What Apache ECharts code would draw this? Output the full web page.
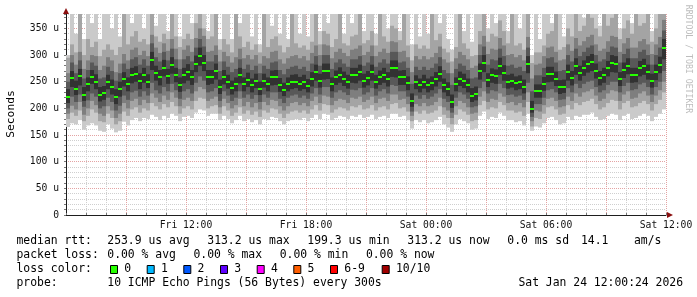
<!DOCTYPE html>
<html><head><meta charset="utf-8">
<script src="https://cdn.jsdelivr.net/npm/echarts@6/dist/echarts.min.js"></script>
<style>html,body{margin:0;padding:0;background:#fff}#c{width:697px;height:297px}</style>
</head><body><div id="c"></div>
<script>
// time grid: hours since Fri 00:00, one column every 12 minutes
const startHour = 6, stepHours = 0.2, endHour = 36;
const xTickHours = [12, 18, 24, 30, 36];
const xTickLabels = ['Fri 12:00', 'Fri 18:00', 'Sat 00:00', 'Sat 06:00', 'Sat 12:00'];
const yTickValues = [0, 50, 100, 150, 200, 250, 300, 350];
const yTickLabels = ['0', '50 u', '100 u', '150 u', '200 u', '250 u', '300 u', '350 u'];

// median rtt (microseconds)
const median = [221,257,237,260,226,245,259,250,226,228,
 250,240,222,236,255,245,262,265,252,262,
 250,290,266,258,276,260,281,262,244,262,
 268,258,284,298,286,258,259,270,240,259,
 250,238,245,262,245,254,243,252,237,252,
 245,258,258,244,235,245,250,250,246,250,
 242,255,268,252,270,270,245,258,263,256,
 250,262,262,268,252,257,268,250,258,262,
 255,275,275,258,258,247,214,249,243,250,
 243,247,255,265,243,236,212,245,256,252,
 243,224,227,270,285,253,262,260,280,267,
 250,252,247,249,241,283,199,232,232,246,
 264,264,256,240,241,268,257,279,266,276,
 283,287,270,257,262,275,285,283,255,272,
 280,262,262,275,279,268,252,268,282,313];

// sorted pings (smoke): ping1 = fastest ... ping10 = slowest
const ping1 = [165,172,170,178,160,168,172,168,158,156,
 170,162,155,158,175,168,178,182,176,182,
 180,188,184,178,186,182,190,186,176,184,
 186,182,192,198,196,186,190,190,178,186,
 180,172,178,186,176,180,174,178,170,180,
 178,184,182,176,170,176,178,180,178,182,
 176,182,188,180,190,188,178,182,186,184,
 180,186,184,188,182,184,188,180,184,186,
 182,190,190,184,186,178,162,178,174,178,
 172,174,178,184,170,164,156,170,180,176,
 172,160,162,186,194,180,184,182,192,186,
 178,178,174,176,168,190,158,166,164,172,
 182,184,178,170,172,184,178,186,184,188,
 188,192,184,178,180,186,190,188,178,186,
 190,180,182,186,190,186,176,184,190,198];
const ping2 = [180,192,186,196,176,186,198,192,176,174,
 190,182,170,176,194,186,198,202,192,200,
 196,210,204,198,208,202,212,204,190,200,
 204,198,214,220,218,200,204,206,190,204,
 196,186,192,202,190,196,188,194,184,196,
 192,200,198,190,182,190,194,196,192,196,
 190,198,206,196,208,206,192,198,202,200,
 196,204,202,206,198,200,206,196,202,204,
 198,208,210,200,202,194,176,194,190,196,
 190,192,196,204,188,182,170,188,198,194,
 188,176,178,206,214,198,202,200,212,206,
 196,196,192,194,186,212,166,182,180,190,
 202,204,198,188,190,206,198,210,206,212,
 214,218,208,198,202,210,216,214,198,210,
 214,202,204,210,214,208,196,208,216,230];
const ping3 = [190,205,198,212,188,200,214,206,190,186,
 204,196,182,190,210,200,214,218,206,216,
 210,228,220,212,224,216,230,220,204,216,
 220,214,232,240,236,214,218,222,202,218,
 210,200,206,218,204,212,202,210,198,212,
 206,216,214,204,196,204,210,212,206,210,
 204,214,222,210,224,222,206,214,218,216,
 210,220,218,222,212,216,222,210,218,220,
 214,226,226,216,218,208,186,208,204,210,
 204,206,212,220,202,196,182,204,214,210,
 202,190,192,222,232,212,218,216,228,222,
 210,212,206,210,202,230,176,196,194,206,
 218,220,214,202,204,222,214,228,222,230,
 232,236,224,214,218,228,234,232,214,226,
 232,218,220,228,232,224,212,224,234,250];
const ping4 = [200,222,212,226,203,215,228,222,200,204,
 220,212,196,205,224,216,230,233,222,232,
 224,248,234,228,240,232,246,234,218,232,
 236,228,248,260,252,230,232,238,214,232,
 224,214,220,232,220,226,218,225,212,226,
 220,230,230,218,210,220,224,226,220,224,
 218,228,238,226,240,240,220,230,234,230,
 225,235,234,238,226,230,238,224,232,236,
 228,244,242,232,232,222,194,224,218,225,
 218,222,228,236,218,212,192,220,230,226,
 218,202,204,238,250,228,234,232,246,238,
 225,226,222,224,216,248,184,208,208,220,
 234,236,230,216,217,238,230,246,238,246,
 250,252,240,230,234,244,250,250,230,242,
 248,234,236,245,248,240,226,240,250,270];
const ping5 = [210,240,225,243,214,232,246,236,213,216,
 236,226,208,222,241,232,247,250,236,248,
 238,272,252,243,260,246,265,249,231,247,
 252,244,268,280,270,244,246,254,227,245,
 237,226,232,247,232,240,230,238,225,239,
 232,243,244,231,223,232,236,238,233,236,
 230,241,252,239,254,255,232,244,248,242,
 237,248,247,252,239,243,252,237,244,248,
 241,259,258,244,244,234,203,236,230,237,
 230,234,241,250,230,223,201,232,242,238,
 230,212,215,254,268,240,248,246,263,252,
 237,239,234,236,228,266,192,220,220,233,
 249,250,242,227,229,252,243,263,252,261,
 267,270,256,243,248,260,268,267,242,257,
 264,248,249,260,263,254,239,253,266,292];
const ping6 = [236,270,252,274,240,258,272,264,240,242,
 263,254,236,250,268,258,276,279,266,276,
 264,306,280,272,291,274,296,276,258,276,
 283,272,299,314,300,272,272,284,254,272,
 263,252,258,276,258,267,256,265,250,265,
 258,271,272,257,248,258,263,264,259,263,
 255,268,282,265,284,284,258,271,277,269,
 263,276,276,282,265,270,282,263,271,276,
 268,290,290,271,272,260,228,262,256,263,
 256,260,268,279,256,249,226,258,269,265,
 256,238,241,284,300,266,275,273,295,281,
 263,265,260,262,254,298,214,245,245,259,
 278,278,269,253,254,282,270,294,280,290,
 298,302,284,270,276,289,300,298,268,286,
 294,276,276,289,293,282,265,282,297,330];
const ping7 = [250,286,266,290,256,272,286,280,256,258,
 278,270,252,266,284,274,292,296,282,292,
 280,322,296,288,306,290,312,292,274,292,
 298,288,314,330,316,288,288,300,270,288,
 278,268,274,292,274,282,272,280,266,280,
 274,286,288,272,264,274,278,280,274,278,
 270,284,298,280,300,300,274,286,292,284,
 278,292,292,298,280,286,298,278,286,292,
 284,306,306,286,288,276,246,278,272,278,
 272,276,284,296,272,266,244,274,284,280,
 272,256,258,300,316,282,292,290,312,298,
 280,282,276,278,270,314,232,262,262,276,
 294,296,286,270,272,300,288,312,298,306,
 314,318,300,288,292,306,316,314,286,302,
 312,294,294,306,310,300,282,300,314,346];
const ping8 = [266,300,282,306,274,290,300,298,272,280,
 296,290,268,284,302,290,310,314,300,308,
 298,338,314,304,322,308,330,312,292,310,
 318,306,332,350,336,306,308,318,288,306,
 298,286,296,312,294,300,292,300,284,298,
 294,306,308,292,284,294,298,300,294,298,
 290,304,318,300,320,318,294,306,312,304,
 298,310,312,318,300,306,318,298,306,312,
 304,326,324,306,308,296,268,298,292,298,
 292,296,304,316,292,286,266,294,306,300,
 292,276,280,320,336,302,312,310,332,318,
 300,302,296,300,290,334,256,282,284,298,
 314,316,306,290,292,320,308,332,318,326,
 334,338,320,308,312,326,336,334,306,322,
 332,314,314,326,330,320,302,320,334,366];
const ping9 = [295,320,305,400,300,330,315,325,298,310,
 320,310,300,315,400,320,335,345,325,330,
 320,400,335,325,340,330,400,335,315,330,
 340,330,360,400,350,330,335,400,310,330,
 320,305,400,335,315,325,310,320,305,400,
 315,330,335,318,305,315,400,322,314,318,
 310,325,400,320,345,340,315,330,400,322,
 318,335,338,400,322,328,345,318,400,335,
 325,355,350,328,400,318,290,320,312,318,
 312,400,328,340,312,305,288,315,400,322,
 312,298,300,345,400,325,340,335,365,345,
 322,400,318,322,310,400,285,305,305,318,
 340,345,400,310,315,350,335,400,345,355,
 400,370,350,335,400,355,370,400,330,350,
 365,340,400,355,360,400,325,350,400,400];
const ping10 = [300,400,340,420,330,400,360,400,330,400,
 400,350,400,335,420,400,360,400,400,350,
 400,420,355,400,400,345,420,400,335,400,
 400,360,400,420,400,345,400,420,330,400,
 400,330,420,360,400,400,335,400,320,420,
 400,355,400,340,400,330,420,400,340,400,
 335,400,420,345,400,360,400,400,420,340,
 400,360,400,420,345,400,400,340,420,400,
 350,400,400,345,420,400,320,400,335,400,
 340,420,400,360,400,330,310,400,420,345,
 400,325,400,400,420,350,400,360,400,400,
 345,420,400,350,400,420,300,400,330,400,
 400,360,420,400,335,400,400,420,400,370,
 420,400,400,355,420,400,400,420,350,400,
 400,360,420,400,400,420,345,400,420,430];

const pings = [ping1, ping2, ping3, ping4, ping5, ping6, ping7, ping8, ping9, ping10];
const smokeColors = ['#cacaca', '#a4a4a4', '#7e7e7e', '#585858', '#323232'];
const medianColor = '#26ff00';

const seriesData = median.map(function (m, i) {
  const row = [startHour + i * stepHours];
  pings.forEach(function (p) { row.push(p[i]); });
  row.push(m);
  return row;
});

function renderSmoke(params, api) {
  const t = api.value(0);
  const x0 = Math.round(api.coord([t, 0])[0]);
  const x1 = Math.round(api.coord([t + stepHours, 0])[0]);
  const children = [];
  for (let b = 0; b < 5; b++) {
    const ya = api.coord([t, api.value(1 + b)])[1];
    const yb = api.coord([t, api.value(10 - b)])[1];
    const top = Math.min(ya, yb), bot = Math.max(ya, yb);
    children.push({type: 'rect', shape: {x: x0, y: top, width: x1 - x0, height: bot - top},
      style: {fill: smokeColors[b]}});
  }
  const ym = api.coord([t, api.value(11)])[1];
  children.push({type: 'rect', shape: {x: x0, y: Math.round(ym) - 1, width: x1 - x0, height: 2},
    style: {fill: medianColor}});
  return {type: 'group', children: children};
}

const mono = 'DejaVu Sans Mono';
const minorGrid = '#cfcfcf', majorGrid = '#e4a3a3';
const axisColor = '#1e1e1e';

const legendFont = 11.4;
const legendRows = [
  {y: 241.5, items: [['median rtt:', 16.5], ['253.9 us avg', 107.3], ['313.2 us max', 207.3], ['199.3 us min', 307.3], ['313.2 us now', 407.3], ['0.0 ms sd', 507.3], ['14.1', 581], ['am/s', 634]]},
  {y: 255.5, items: [['packet loss:', 16.5], ['0.00 % avg', 107.3], ['0.00 % max', 193.5], ['0.00 % min', 279.7], ['0.00 % now', 365.9]]},
  {y: 269.5, items: [['loss color:', 16.5]]},
  {y: 283.5, items: [['probe:', 16.5], ['10 ICMP Echo Pings (56 Bytes) every 300s', 107.3]]}
];
const lossLabels = ['0', '1', '2', '3', '4', '5', '6-9', '10/10'];
const lossColors = ['#26ff00', '#00b8ff', '#0059ff', '#5e00ff', '#ff00ff', '#ff5e00', '#ff0000', '#a10000'];
const lossBoxX = [110, 146.7, 183.3, 220, 256.7, 293.3, 330, 381.7];
const dateText = 'Sat Jan 24 12:00:24 2026';

const graphics = [];
legendRows.forEach(function (row) {
  row.items.forEach(function (it) {
    graphics.push({type: 'text', x: it[1], y: row.y, silent: true,
      style: {text: it[0], fill: '#000', font: legendFont + 'px "' + mono + '"', textAlign: 'left', textVerticalAlign: 'middle'}});
  });
});
lossLabels.forEach(function (lab, k) {
  graphics.push({type: 'rect', shape: {x: lossBoxX[k] + 0.5, y: 265.5, width: 7, height: 8}, silent: true,
    style: {fill: lossColors[k], stroke: '#000', lineWidth: 1}});
  graphics.push({type: 'text', x: lossBoxX[k] + 14.3, y: 269.5, silent: true,
    style: {text: lab, fill: '#000', font: legendFont + 'px "' + mono + '"', textAlign: 'left', textVerticalAlign: 'middle'}});
});
graphics.push({type: 'text', x: 683, y: 283.5, silent: true,
  style: {text: dateText, fill: '#000', font: legendFont + 'px "' + mono + '"', textAlign: 'right', textVerticalAlign: 'middle'}});
graphics.push({type: 'text', x: 11, y: 114, rotation: Math.PI / 2, silent: true,
  style: {text: 'Seconds', fill: '#000', font: '11.3px "' + mono + '"', textAlign: 'center', textVerticalAlign: 'middle'}});
graphics.push({type: 'text', x: 688, y: 59, rotation: -Math.PI / 2, silent: true,
  style: {text: 'RRDTOOL / TOBI OETIKER', fill: '#bdbdbd', font: '8.2px "' + mono + '"', textAlign: 'center', textVerticalAlign: 'middle'}});

const chart = echarts.init(document.getElementById('c'), null, {renderer: 'canvas'});
const gridCfg = {left: 66, right: 31, top: 14, bottom: 82, outerBoundsMode: 'none', containLabel: false};
chart.setOption({
  animation: false,
  backgroundColor: '#ffffff',
  grid: gridCfg,
  xAxis: [{
    type: 'value', min: startHour, max: endHour, interval: 1,
    axisLine: {show: true, onZero: false, lineStyle: {color: axisColor, width: 1}},
    axisTick: {show: true, inside: true, length: 2, lineStyle: {color: '#777'}},
    axisLabel: {show: true, interval: 0, margin: 5, color: '#111', fontFamily: mono, fontSize: 9.7,
      formatter: function (v) { const k = xTickHours.indexOf(Math.round(v)); return k >= 0 ? xTickLabels[k] : ''; }},
    splitLine: {show: true, lineStyle: {color: [majorGrid, minorGrid, minorGrid], type: [1, 1], width: 1}}
  }, {
    type: 'value', min: startHour, max: endHour, position: 'bottom',
    axisLine: {show: true, onZero: false, symbol: ['none', 'triangle'], symbolSize: [6, 6], symbolOffset: [0, 4],
      lineStyle: {color: '#8b1010', width: 0}},
    axisTick: {show: false}, axisLabel: {show: false}, splitLine: {show: false}
  }],
  yAxis: [{
    type: 'value', min: 0, max: 377, interval: 10,
    axisLine: {show: true, onZero: false, lineStyle: {color: axisColor, width: 1}},
    axisTick: {show: true, length: 2, lineStyle: {color: '#777'}},
    axisLabel: {show: true, margin: 7, color: '#111', fontFamily: mono, fontSize: 9.7,
      formatter: function (v) { const k = yTickValues.indexOf(Math.round(v)); return (k >= 0 && Math.abs(v - yTickValues[k]) < 1e-6) ? yTickLabels[k] : ''; }},
    splitLine: {show: true, lineStyle: {color: [majorGrid, minorGrid, minorGrid, minorGrid, minorGrid], type: [1, 1], width: 1}}
  }, {
    type: 'value', min: 0, max: 377, position: 'left',
    axisLine: {show: true, onZero: false, symbol: ['none', 'triangle'], symbolSize: [6, 6], symbolOffset: [0, 3],
      lineStyle: {color: '#8b1010', width: 0}},
    axisTick: {show: false}, axisLabel: {show: false}, splitLine: {show: false}
  }],
  series: [{
    type: 'custom', clip: true, xAxisIndex: 0, yAxisIndex: 0,
    renderItem: renderSmoke,
    encode: {x: 0, y: 11},
    data: seriesData
  }],
  graphic: graphics
});
</script></body></html>
